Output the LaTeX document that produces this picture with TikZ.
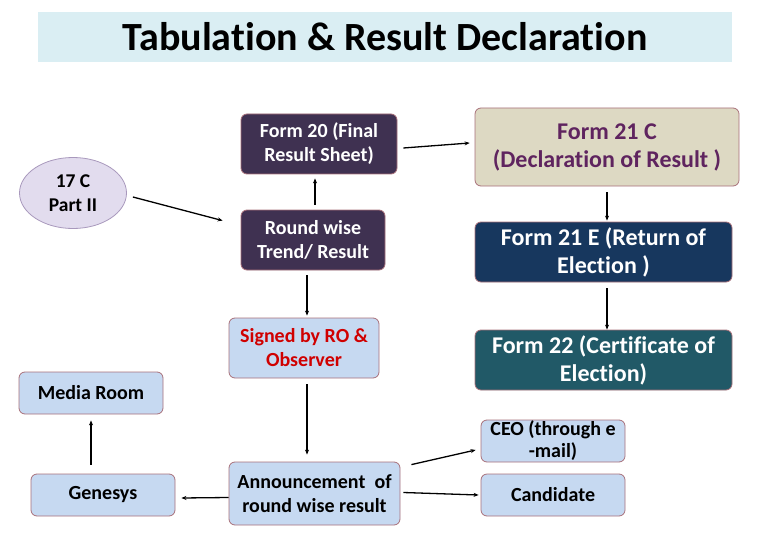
\documentclass[tikz,border=0pt]{standalone}
\usepackage{fontspec}
\setmainfont{Carlito}[Ligatures=NoCommon]
\usetikzlibrary{arrows.meta,calc,positioning,shapes.geometric}
\definecolor{BandBlue}{HTML}{DAEEF3}
\definecolor{FormPurple}{HTML}{3F3151}
\definecolor{FormNavy}{HTML}{17375E}
\definecolor{FormTeal}{HTML}{215967}
\definecolor{FormTan}{HTML}{DDD9C3}
\definecolor{TanInk}{HTML}{5F245F}
\definecolor{PaleBlue}{HTML}{C6D9F1}
\definecolor{Lavender}{HTML}{E2DCEE}
\definecolor{LavenderEdge}{HTML}{A898BC}
\definecolor{BoxEdge}{HTML}{A8707A}
\definecolor{SignRed}{HTML}{D00000}
\tikzset{
  every node/.style={font=\bfseries, text=black},
  stage/.style={rectangle, rounded corners=6pt, draw=BoxEdge, line width=0.8pt,
    align=center, inner sep=2pt},
  darkform/.style={stage, fill=FormPurple, text=white, font=\bfseries\fontsize{20}{24}\selectfont},
  bigform/.style={stage, text=white, font=\bfseries\fontsize{24}{28}\selectfont},
  paleform/.style={stage, fill=PaleBlue, font=\bfseries\fontsize{20}{24}\selectfont},
  flow/.style={-{Stealth[length=5pt,width=4pt]}, draw=black, line width=1.3pt},
}
\begin{document}
\begin{tikzpicture}[x=1pt, y=-1pt]
  \useasboundingbox (0,0) rectangle (770,540);
  % Title band
  \node[fill=BandBlue, minimum width=694, minimum height=50, inner sep=0pt,
    font=\bfseries\fontsize{40}{44}\selectfont] (title) at (385,37)
    {Tabulation \& Result Declaration};
  % Left column
  \node[ellipse, draw=LavenderEdge, fill=Lavender, line width=0.8pt, minimum width=107,
    minimum height=71, inner sep=0pt, align=center, font=\bfseries\fontsize{19.5}{24}\selectfont]
    (partII) at (73,193) {17 C\\Part II};
  \node[paleform, minimum width=144, minimum height=42] (media) at (91,393) {Media Room};
  \node[paleform, minimum width=144, minimum height=42] (genesys) at (103,495) {Genesys};
  % Middle column
  \node[darkform, minimum width=156, minimum height=60] (form20) at (319,144)
    {Form 20 (Final\\Result Sheet)};
  \node[darkform, minimum width=144, minimum height=60] (roundwise) at (313,240)
    {Round wise\\Trend/ Result};
  \node[paleform, text=SignRed, minimum width=150, minimum height=60] (signed) at (304,348)
    {Signed by RO \&\\Observer};
  \node[paleform, minimum width=171, minimum height=63] (announce) at (314.5,493.5)
    {Announcement~ of\\round wise result};
  % Right column
  \node[bigform, fill=FormTan, text=TanInk, minimum width=264, minimum height=78]
    (form21c) at (607,147) {Form 21 C\\(Declaration of Result )};
  \node[bigform, fill=FormNavy, minimum width=257, minimum height=60] (form21e)
    at (603.5,252) {Form 21 E (Return of\\Election )};
  \node[bigform, fill=FormTeal, minimum width=257, minimum height=60] (form22)
    at (603.5,360) {Form 22 (Certificate of\\Election)};
  \node[paleform, font=\bfseries\fontsize{20}{22}\selectfont, minimum width=144,
    minimum height=42, inner sep=0pt] (ceo) at (553,441) {CEO (through e\\-mail)};
  \node[paleform, minimum width=144, minimum height=42] (candidate) at (553,495) {Candidate};
  % Connectors
  \draw[flow] ($(partII.east)+(6,4)$) -- ($(roundwise.north west)+(-18,11)$);
  \draw[flow] ($(roundwise.north)+(2,-5)$) -- ($(form20.south)+(-4,4)$);
  \draw[flow] ($(roundwise.south)+(-6,5)$) -- ($(signed.north)+(3,-2)$);
  \draw[flow] ($(signed.south)+(3,6)$) -- ($(announce.north)+(-7.5,-7)$);
  \draw[flow] ($(announce.west)+(0,4)$) -- ($(genesys.east)+(6,3)$);
  \draw[flow] ($(genesys.north)+(-12,-9)$) -- ($(media.south)+(0,6)$);
  \draw[flow] ($(form20.east)+(6,4)$) -- ($(form21c.west)+(-5,-4)$);
  \draw[flow] ($(form21c.south)+(0,6)$) -- ($(form21c.south |- form21e.north)+(0,-1)$);
  \draw[flow] ($(form21e.south)+(3.5,6)$) -- ($(form22.north)+(3.5,0)$);
  \draw[flow] ($(announce.north east)+(11,3)$) -- ($(ceo.west)+(-5,9)$);
  \draw[flow] ($(announce.east)+(3,-1)$) -- ($(candidate.west)+(-2,0)$);
\end{tikzpicture}
\end{document}
